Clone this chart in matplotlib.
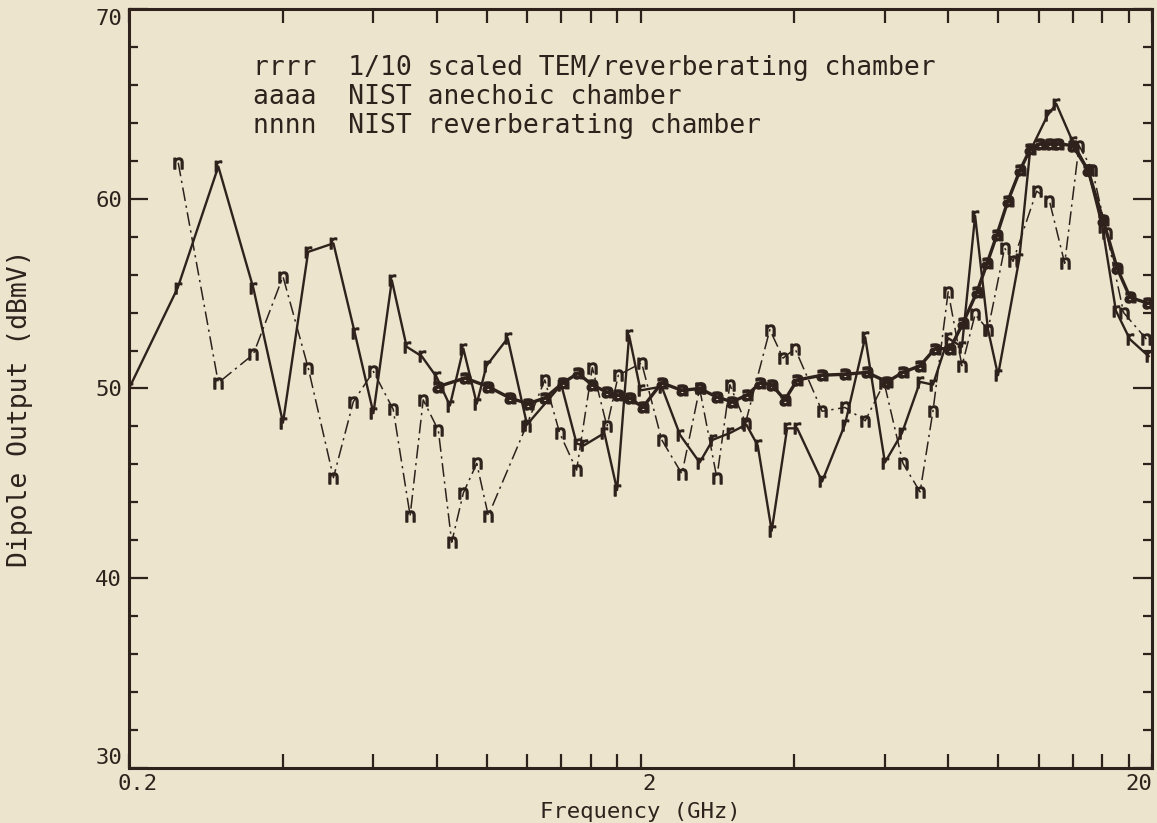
import matplotlib
matplotlib.use("Agg")
import matplotlib.pyplot as plt
from matplotlib import transforms

# ---- Measured dipole output (GHz, dBmV) ---- #
# rrrr : 1/10 scaled TEM/reverberating chamber
freq_r = [0.200, 0.249, 0.299, 0.350, 0.400, 0.448, 0.502, 0.553, 0.601, 0.653,
          0.698, 0.747, 0.799, 0.848, 0.901, 0.957, 1.00, 1.10, 1.20, 1.40,
          1.50, 1.55, 1.70, 1.80, 1.90, 2.00, 2.20, 2.39, 2.61, 2.77,
          2.99, 3.22, 3.39, 3.61, 3.87, 4.05, 4.53, 5.02, 5.50, 6.01,
          6.49, 7.04, 7.46, 7.99, 8.50, 9.02, 9.56, 10.0, 11.0, 11.55,
          12.5, 13.0, 14.0, 15.0, 16.0, 17.0, 18.1, 19.7]
dbmv_r = [50.0, 55.3, 61.7, 55.3, 48.2, 57.2, 57.65, 52.9, 48.7, 55.7,
          52.2, 51.7, 50.6, 49.1, 52.1, 49.2, 51.2, 52.65, 48.1, 50.2,
          47.1, 47.0, 47.65, 44.65, 52.8, 49.9, 50.1, 47.55, 46.1, 47.3,
          47.65, 48.1, 47.0, 42.5, 47.9, 47.9, 45.1, 48.1, 52.7, 46.1,
          47.65, 50.35, 50.2, 52.65, 52.2, 59.1, 53.1, 50.7, 56.8, 62.5,
          64.4, 65.0, 63.0, 61.5, 58.5, 54.1, 52.6, 51.7]

# aaaa : NIST anechoic chamber
freq_a = [0.804, 0.908, 1.007, 1.111, 1.205, 1.301, 1.411, 1.509, 1.608, 1.72,
          1.808, 1.908, 2.02, 2.20, 2.41, 2.61, 2.82, 3.02, 3.23, 3.43,
          3.61, 3.83, 4.05, 4.53, 5.02, 5.54, 6.07, 6.52, 7.04, 7.53,
          8.06, 8.54, 9.10, 9.52, 9.95, 10.46, 11.04, 11.55, 12.08, 12.64,
          13.1, 14.01, 15.0, 16.04, 17.09, 18.12, 19.6]
dbmv_a = [50.1, 50.55, 50.1, 49.5, 49.2, 49.5, 50.3, 50.8, 50.2, 49.8,
          49.65, 49.5, 49.0, 50.3, 49.9, 50.0, 49.55, 49.3, 49.65, 50.3,
          50.2, 49.4, 50.45, 50.7, 50.75, 50.85, 50.35, 50.85, 51.2, 52.1,
          52.1, 53.45, 55.1, 56.6, 58.1, 59.9, 61.5, 62.6, 62.9, 62.9,
          62.9, 62.8, 61.5, 58.9, 56.35, 54.8, 54.5]

# nnnn : NIST reverberating chamber
freq_n = [0.2496, 0.299, 0.350, 0.400, 0.448, 0.502, 0.549, 0.601, 0.657, 0.709,
          0.752, 0.805, 0.855, 0.901, 0.957, 1.008, 1.195, 1.30, 1.39, 1.50,
          1.61, 1.72, 1.81, 2.01, 2.20, 2.41, 2.61, 2.82, 2.99, 3.21,
          3.58, 3.80, 4.01, 4.53, 5.02, 5.50, 5.99, 6.52, 7.04, 7.46,
          7.99, 8.50, 9.02, 9.56, 10.3, 10.7, 11.9, 12.6, 13.5, 14.4,
          15.3, 16.3, 17.6, 19.5]
dbmv_n = [61.9, 50.3, 51.8, 55.9, 51.1, 45.3, 49.3, 50.9, 48.9, 43.3,
          49.4, 47.8, 41.9, 44.5, 46.05, 43.3, 48.0, 50.45, 47.65, 45.7,
          51.1, 48.0, 50.7, 51.35, 47.3, 45.5, 50.0, 45.3, 50.2, 48.2,
          53.1, 51.6, 52.1, 48.8, 49.0, 48.3, 50.3, 46.05, 44.55, 48.8,
          55.1, 51.2, 53.9, 53.1, 57.4, 56.7, 60.4, 59.9, 56.6, 62.8,
          61.5, 58.2, 54.0, 52.6]

y_ticks = [30, 40, 50, 60, 70]
x_ticks = [0.2, 2, 20]
x_tick_labels = ["0.2", "2", "20"]

legend_lines = ["rrrr  1/10 scaled TEM/reverberating chamber",
                "aaaa  NIST anechoic chamber",
                "nnnn  NIST reverberating chamber"]

# ---- Style ---- #
ink = "#2f221d"
paper = "#ece4cd"
mono = "DejaVu Sans Mono"

fig = plt.figure(figsize=(11.57, 8.23), dpi=100)
fig.patch.set_facecolor(paper)
ax = fig.add_axes([129 / 1157, 55 / 823, 1023 / 1157, 759 / 823])
ax.set_facecolor(paper)

# ---- Curves ---- #
ax.plot(freq_n, dbmv_n, color=ink, lw=1.1, dashes=(9, 3, 1.5, 3),
        marker=r"$\mathregular{n}$", ms=8, mec=ink, mfc=ink, zorder=3)
ax.plot(freq_r, dbmv_r, color=ink, lw=1.7, ls="-",
        marker=r"$\mathregular{r}$", ms=8, mec=ink, mfc=ink, zorder=4)
ax.plot(freq_a, dbmv_a, color=ink, lw=2.4, ls="-",
        marker=r"$\mathbf{a}$", ms=8, mec=ink, mfc=ink, zorder=5)

# ---- Axes ---- #
ax.set_xscale("log")
ax.set_xlim(0.2, 20)
ax.set_ylim(30, 70)

for s in ax.spines.values():
    s.set_color(ink)
    s.set_linewidth(2.2)

minor_x = [0.2 * k for k in range(2, 10)] + [2 * k for k in range(2, 10)]
ax.set_xticks(x_ticks)
ax.set_xticklabels(x_tick_labels)
ax.set_xticks(minor_x, minor=True)
ax.xaxis.set_minor_formatter(plt.NullFormatter())
ax.tick_params(axis="x", which="both", direction="in", top=True, bottom=True,
               length=10, width=1.6, color=ink, pad=4)

ax.set_yticks(y_ticks)
ax.set_yticks(range(32, 70, 2), minor=True)
ax.tick_params(axis="y", which="major", direction="in", left=True, right=True,
               length=13.5, width=1.6, color=ink, pad=5)
ax.tick_params(axis="y", which="minor", direction="in", left=True, right=True,
               length=6.5, width=1.6, color=ink)

for lab in ax.get_xticklabels() + ax.get_yticklabels():
    lab.set_fontfamily(mono)
    lab.set_fontsize(16)
    lab.set_color(ink)

# plotter-style label offsets
shift = transforms.ScaledTranslation(9 / 100, 0, fig.dpi_scale_trans)
xl = ax.get_xticklabels()
for lab in xl[:2]:
    lab.set_transform(lab.get_transform() + shift)
xl[2].set_horizontalalignment("right")
yl = ax.get_yticklabels()
yl[0].set_verticalalignment("bottom")
yl[-1].set_verticalalignment("top")

fig.text(640 / 1157, 1 / 823, "Frequency (GHz)", fontfamily=mono,
         fontsize=16, color=ink, ha="center", va="bottom")
ax.set_ylabel("Dipole Output (dBmV)", fontfamily=mono, fontsize=19, color=ink)
ax.yaxis.set_label_coords((33 - 129) / 1023, (768 - 408) / 759)

# ---- Key ---- #
for i, line in enumerate(legend_lines):
    ax.text(253 / 1157, 1 - (75 + 29 * i) / 823, line, transform=fig.transFigure,
            fontfamily=mono, fontsize=19, color=ink, va="baseline", ha="left")

fig.savefig("out.png", dpi=100, facecolor=paper)
